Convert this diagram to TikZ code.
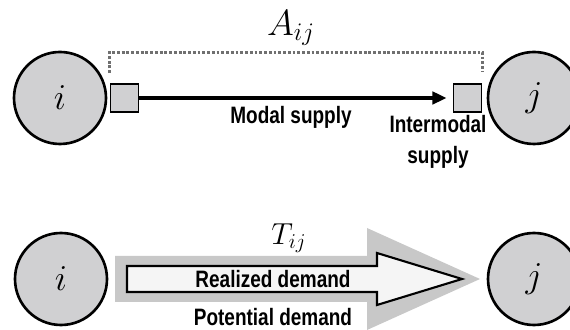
\documentclass[tikz,border=0pt]{standalone}
\usepackage{fontspec}
\usetikzlibrary{arrows.meta,calc}
\newfontfamily\labelfont[FakeStretch=0.8]{Liberation Sans}
\definecolor{node_gray}{HTML}{D0D0D2}
\definecolor{band_gray}{HTML}{C8C8C8}
\definecolor{dot_gray}{HTML}{707070}
\definecolor{pale_white}{HTML}{F5F5F5}
\tikzset{
  zone/.style={circle,draw=black,line width=1.5pt,fill=node_gray,
    minimum size=18.4mm,inner sep=0pt,font=\huge},
  stopbox/.style={draw=black,line width=1.1pt,fill=node_gray,
    minimum size=5.6mm,inner sep=0pt},
  flowtext/.style={font=\fontsize{13.5}{18}\selectfont\labelfont\bfseries,
    align=center,inner sep=0pt}
}

\begin{document}
\begin{tikzpicture}[x=0.2mm,y=0.2mm]
    \clip (0,0) rectangle (570,330);

    \node[zone] (i1) at (60,232) {$i$};
    \node[zone] (j1) at (534,232) {$j$};
    \node[stopbox] (sl) at (124.5,232) {};
    \node[stopbox] (sr) at (467.5,232) {};
    \coordinate (brl) at ($(sl.north west)+(0,10)$);
    \coordinate (brr) at ($(sr.north east)+(0,12)$);
    \draw[dot_gray,line width=1.7pt,dash pattern=on 1.6pt off 1.1pt]
         (brl) -- ++(0,21) -| (brr);
    \node[font=\huge] (aij) at (291,302) {$A_{ij}$};
    \draw[line width=2pt,-{Triangle[length=8pt,width=7pt]},shorten >=1.2mm]
         (sl) -- (sr);
    \node[flowtext] (modal) at (291,213) {Modal supply};
    \node[flowtext] (inter) at (438,188) {Intermodal\\supply};

    \node[zone] (i2) at (61,51) {$i$};
    \node[zone] (j2) at (534,51) {$j$};
    \fill[band_gray] (115,74) -- (367,74) -- (367,102) -- (480,51)
         -- (367,0) -- (367,28) -- (115,28) -- cycle;
    \draw[line width=1.2pt,fill=pale_white] (127,64) -- (377,64) -- (377,77)
         -- (462,51) -- (377,25) -- (377,38) -- (127,38) -- cycle;
    \node[flowtext] (real) at (273,51) {Realized demand};
    \node[flowtext] (pot) at (273,13) {Potential demand};
    \node[font=\LARGE] (tij) at (289,92) {$T_{ij}$};
\end{tikzpicture}
\end{document}
